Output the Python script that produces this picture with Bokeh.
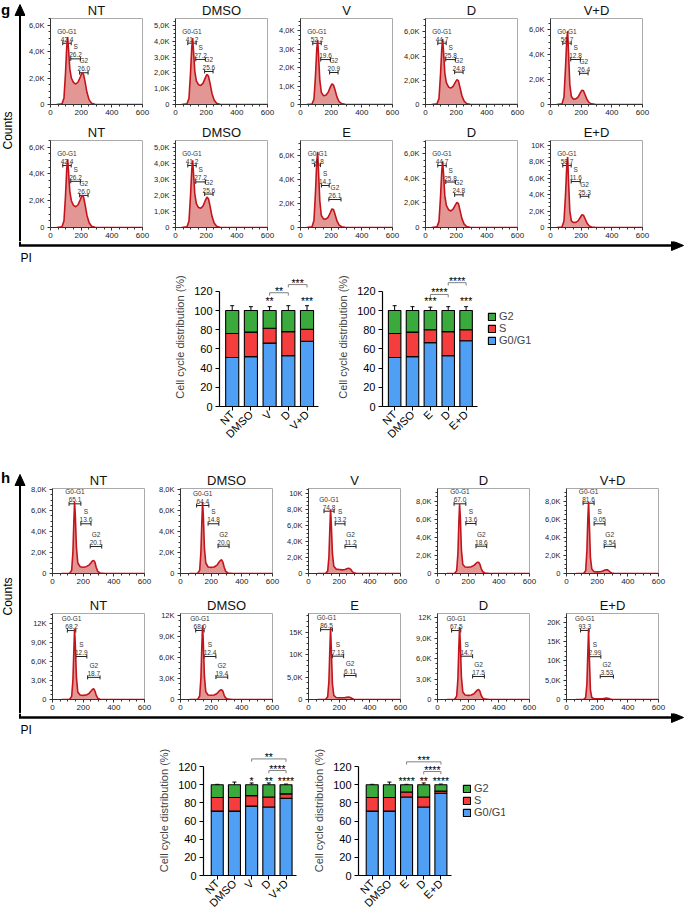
import math
from bokeh.plotting import figure
from bokeh.models import (Range1d, FixedTicker, ColumnDataSource, Whisker,
                          TeeHead, Legend, LegendItem, Spacer)
from bokeh.layouts import row, column
from bokeh.core.properties import value
from bokeh.embed import file_html
from bokeh.resources import INLINE

FONT = "Liberation Sans"

# ======================= DATA =======================
# PI histogram grids (channel values) and counts in thousands
X_G = [40, 75, 88, 98, 106, 112, 118, 126, 136, 150, 165, 180, 195, 205, 215, 225, 238, 252, 268, 290, 330, 600]
X_H = [60, 112, 125, 133, 139, 144, 149, 156, 165, 180, 200, 220, 238, 250, 260, 268, 276, 285, 295, 310, 340, 600]
GATE_NAMES = ["G0-G1", "S", "G2"]

# ---- panel g, row 1 ----
G1_TITLES = ["NT", "DMSO", "V", "D", "V+D"]
G1_YMAX = [6.5, 5.44, 4.65, 7.1, 6.9]
G1_YTICKS = [[0, 2, 4, 6], [0, 1, 2, 3, 4, 5], [0, 1, 2, 3, 4], [0, 2, 4, 6], [0, 2, 4, 6]]
G1_COUNTS = [
    [0, 0.05, 0.5, 2.4, 4.4, 5.1, 4.1, 2.7, 2.0, 1.65, 1.55, 1.7, 2.1, 2.4, 2.3, 1.75, 0.9, 0.35, 0.1, 0.02, 0, 0],
    [0, 0.05, 0.4, 2.0, 3.6, 4.2, 3.3, 2.1, 1.5, 1.25, 1.2, 1.35, 1.7, 1.9, 1.8, 1.35, 0.7, 0.28, 0.08, 0.02, 0, 0],
    [0, 0.03, 0.3, 1.6, 3.0, 3.5, 2.6, 1.3, 0.65, 0.48, 0.5, 0.65, 0.95, 1.12, 1.05, 0.8, 0.4, 0.15, 0.05, 0.01, 0, 0],
    [0, 0.05, 0.5, 2.5, 4.6, 5.4, 4.3, 2.6, 1.8, 1.45, 1.35, 1.5, 1.85, 2.05, 1.95, 1.4, 0.7, 0.28, 0.08, 0.02, 0, 0],
    [0, 0.05, 0.6, 3.0, 5.2, 5.9, 4.0, 1.6, 0.65, 0.42, 0.45, 0.6, 0.95, 1.15, 1.1, 0.8, 0.4, 0.15, 0.05, 0.01, 0, 0],
]
G1_PCT = [["42.4", "26.2", "26.0"], ["41.2", "27.2", "25.6"], ["52.2", "19.6", "20.9"],
          ["44.7", "25.8", "24.8"], ["56.7", "12.8", "26.4"]]
G1_GATE_X = [[(80, 135), (132, 195), (190, 245)]] * 5
G1_GATE_Y = [[4.63, 3.45, 2.40], [3.88, 2.85, 2.09], [3.31, 2.43, 1.73],
             [5.06, 3.71, 2.67], [4.92, 3.61, 2.50]]

# ---- panel g, row 2 ----
G2_TITLES = ["NT", "DMSO", "E", "D", "E+D"]
G2_YMAX = [6.5, 5.44, 7.25, 7.1, 10.6]
G2_YTICKS = [[0, 2, 4, 6], [0, 1, 2, 3, 4, 5], [0, 2, 4, 6], [0, 2, 4, 6], [0, 2, 4, 6, 8, 10]]
G2_COUNTS = [
    G1_COUNTS[0],
    G1_COUNTS[1],
    [0, 0.05, 0.6, 3.0, 5.5, 6.3, 4.5, 2.2, 1.0, 0.72, 0.7, 0.85, 1.25, 1.55, 1.5, 1.1, 0.55, 0.2, 0.06, 0.01, 0, 0],
    G1_COUNTS[3],
    [0, 0.05, 0.8, 4.0, 7.5, 8.6, 5.5, 2.0, 0.8, 0.6, 0.62, 0.8, 1.25, 1.55, 1.5, 1.1, 0.55, 0.2, 0.06, 0.01, 0, 0],
]
G2_PCT = [["42.4", "26.2", "26.0"], ["41.2", "27.2", "25.6"], ["54.8", "14.1", "26.1"],
          ["44.7", "25.8", "24.8"], ["58.7", "11.6", "25.3"]]
G2_GATE_X = [[(80, 135), (132, 195), (190, 245)], [(80, 135), (132, 195), (190, 245)],
             [(92, 130), (136, 187), (185, 264)], [(80, 135), (132, 195), (190, 245)],
             [(80, 135), (135, 194), (194, 250)]]
G2_GATE_Y = [[4.63, 3.45, 2.40], [3.88, 2.85, 2.09], [5.2, 3.5, 2.33],
             [5.06, 3.71, 2.67], [7.55, 5.6, 3.8]]

# ---- panel h, row 1 ----
H1_TITLES = ["NT", "DMSO", "V", "D", "V+D"]
H1_YMAX = [8.1, 8.1, 10.6, 9.44, 9.4]
H1_YTICKS = [[0, 2, 4, 6, 8], [0, 2, 4, 6, 8], [0, 2, 4, 6, 8, 10], [0, 2, 4, 6, 8], [0, 2, 4, 6, 8]]
H1_COUNTS = [
    [0, 0.02, 0.3, 2.0, 4.8, 6.8, 5.5, 2.5, 1.0, 0.65, 0.6, 0.65, 0.8, 1.0, 1.2, 1.25, 1.1, 0.6, 0.2, 0.05, 0, 0],
    [0, 0.02, 0.3, 2.0, 4.8, 6.8, 5.5, 2.4, 1.0, 0.62, 0.58, 0.62, 0.8, 1.05, 1.25, 1.3, 1.1, 0.6, 0.2, 0.05, 0, 0],
    [0, 0.02, 0.3, 2.0, 5.5, 8.0, 6.0, 2.5, 0.9, 0.55, 0.5, 0.45, 0.5, 0.6, 0.65, 0.62, 0.5, 0.25, 0.08, 0.02, 0, 0],
    [0, 0.02, 0.3, 2.2, 5.5, 7.7, 6.2, 2.6, 1.0, 0.72, 0.7, 0.75, 0.9, 1.1, 1.25, 1.25, 1.05, 0.55, 0.2, 0.05, 0, 0],
    [0, 0.02, 0.3, 2.5, 6.0, 7.9, 5.5, 1.8, 0.5, 0.2, 0.18, 0.2, 0.28, 0.38, 0.42, 0.4, 0.3, 0.15, 0.05, 0.01, 0, 0],
]
H1_PCT = [["65.1", "13.6", "20.1"], ["64.4", "14.8", "20.0"], ["74.8", "13.2", "11.2"],
          ["67.0", "13.6", "18.6"], ["81.6", "9.05", "8.54"]]
H1_GATE_X = [[(108, 185), (185, 251), (246, 321)], [(105, 185), (180, 250), (245, 317)],
             [(101, 167), (174, 238), (238, 310)], [(108, 185), (185, 251), (251, 321)],
             [(108, 180), (180, 251), (246, 317)]]
H1_GATE_Y = [[6.64, 4.74, 2.57], [6.48, 4.74, 2.6], [7.77, 6.2, 3.37],
             [7.74, 5.55, 3.03], [7.77, 5.5, 3.0]]

# ---- panel h, row 2 ----
H2_TITLES = ["NT", "DMSO", "E", "D", "E+D"]
H2_YMAX = [13.6, 12.3, 19.2, 12.6, 22.3]
H2_YTICKS = [[0, 3, 6, 9, 12], [0, 3, 6, 9, 12], [0, 5, 10, 15], [0, 3, 6, 9, 12], [0, 5, 10, 15, 20]]
H2_COUNTS = [
    [0, 0.03, 0.5, 3.0, 7.5, 11.2, 8.5, 3.5, 1.2, 0.7, 0.65, 0.7, 0.95, 1.3, 1.6, 1.7, 1.4, 0.7, 0.2, 0.05, 0, 0],
    [0, 0.03, 0.5, 3.0, 7.5, 10.6, 8.0, 3.3, 1.1, 0.65, 0.6, 0.65, 0.85, 1.15, 1.35, 1.4, 1.2, 0.6, 0.2, 0.05, 0, 0],
    [0, 0.03, 0.6, 4.0, 11.0, 16.0, 11.0, 3.5, 0.9, 0.45, 0.4, 0.38, 0.42, 0.5, 0.55, 0.52, 0.4, 0.2, 0.06, 0.01, 0, 0],
    [0, 0.03, 0.5, 3.0, 7.5, 10.6, 8.0, 3.3, 1.1, 0.65, 0.6, 0.65, 0.85, 1.15, 1.4, 1.45, 1.25, 0.6, 0.2, 0.05, 0, 0],
    [0, 0.03, 0.5, 4.0, 12.0, 18.3, 11.0, 2.5, 0.5, 0.2, 0.18, 0.2, 0.25, 0.3, 0.35, 0.33, 0.25, 0.12, 0.04, 0.01, 0, 0],
]
H2_PCT = [["68.2", "12.9", "18.7"], ["68.0", "12.4", "19.4"], ["86.5", "7.13", "6.11"],
          ["67.5", "14.7", "17.5"], ["93.3", "2.99", "3.53"]]
H2_GATE_X = [[(97, 152), (152, 224), (229, 310)], [(99, 154), (154, 231), (231, 308)],
             [(79, 156), (156, 229), (233, 310)], [(92, 152), (152, 229), (229, 306)],
             [(92, 147), (147, 224), (220, 306)]]
H2_GATE_Y = [[10.9, 6.8, 3.5], [9.87, 6.15, 3.2], [15.6, 9.67, 5.36],
             [10.1, 6.34, 3.37], [17.9, 11.1, 5.95]]

# ---- stacked bar charts (% of cells) ----
BAR_YTICKS = [0, 20, 40, 60, 80, 100, 120]
CATS_V = ["NT", "DMSO", "V", "D", "V+D"]
CATS_E = ["NT", "DMSO", "E", "D", "E+D"]
LEGEND_LABELS = ["G2", "S", "G0/G1"]

GV_G0 = [51, 52, 66, 53, 68]
GV_S = [25, 25.5, 15.5, 25, 12.5]
GV_G2 = [24, 22.5, 18.5, 22, 19.5]
GV_E0 = [5.5, 4.5, 10, 4.6, 9]
GV_ES = [6, 4, 5.3, 5.3, 4]
GV_E2 = [5, 4, 4, 5, 5]
GV_STARS = ["", "", "**", "", "***"]
GV_BRACKETS = [(2, 3, 118.5, "**"), (3, 4, 127, "***")]

GE_G0 = [51, 52, 66.5, 53, 68.5]
GE_S = [25, 25.5, 13.5, 25, 11.5]
GE_G2 = [24, 22.5, 20, 22, 20]
GE_E0 = [5.5, 4.5, 4, 4.6, 3.5]
GE_ES = [6, 4, 5, 5, 4]
GE_E2 = [5, 4, 3.5, 4, 4]
GE_STARS = ["", "", "***", "", "***"]
GE_BRACKETS = [(2, 3, 116.7, "****"), (3, 4, 129, "****")]

HV_G0 = [71, 71, 76.5, 75.5, 85]
HV_S = [15, 15, 11.5, 11, 5]
HV_G2 = [14, 14, 12, 13.5, 10]
HV_E0 = [2, 3, 3, 1.5, 1.2]
HV_ES = [2, 1, 2, 1, 1]
HV_E2 = [0.5, 3, 2, 2, 0.8]
HV_STARS = ["", "", "*", "**", "****"]
HV_BRACKETS = [(2, 4, 128.5, "**"), (3, 4, 115.7, "****")]

HE_G0 = [71, 71, 86.5, 75.5, 90.5]
HE_S = [15, 15, 5.5, 11, 2.5]
HE_G2 = [14, 14, 8, 13.5, 7]
HE_E0 = [2, 3, 1.5, 1.5, 0.5]
HE_ES = [2, 1, 1, 1, 1]
HE_E2 = [0.5, 3, 0.5, 2, 0.8]
HE_STARS = ["", "", "****", "**", "****"]
HE_BRACKETS = [(2, 4, 125.3, "***"), (3, 4, 114.6, "****")]

# ======================= STYLE =======================
FILL = "#e39795"
LINE = "#c3141c"
BLUE = "#4f9ff5"
RED = "#f53d3d"
GREEN = "#3aaa3c"


def klabel(v):
    if v == 0:
        return "0"
    if v >= 10:
        return f"{v}K"
    return f"{v},0K"


def style_axis(ax, size, tick=3, minor=2, standoff=2):
    ax.axis_line_color = "#333333"
    ax.major_tick_line_color = "#333333"
    ax.minor_tick_line_color = "#333333"
    ax.major_tick_in = 0
    ax.major_tick_out = tick
    ax.minor_tick_in = 0
    ax.minor_tick_out = minor
    ax.major_label_text_font = FONT
    ax.major_label_text_font_size = size
    ax.major_label_text_color = "#222222"
    ax.major_label_standoff = standoff


def hist_fig(x, counts, ymax, yticks, title, pct, gate_x, gate_y, w, L, T, B, fh):
    p = figure(width=w, height=T + fh + B, x_range=Range1d(0, 600), y_range=Range1d(0, ymax),
               title=title, toolbar_location=None, output_backend="svg",
               min_border_left=L, min_border_right=w - L - 92, min_border_top=T,
               min_border_bottom=B)
    p.title.align = "center"
    p.title.text_font = FONT
    p.title.text_font_size = "13px"
    p.title.text_font_style = "normal"
    p.title.text_color = "#111111"
    try:
        p.title.standoff = 1
    except (AttributeError, ValueError):
        pass
    p.grid.visible = False
    p.outline_line_color = "#aaaaaa"
    p.varea(x=x, y1=0, y2=counts, fill_color=FILL)
    p.line(x, counts, line_color=LINE, line_width=1.6)

    style_axis(p.xaxis[0], "8px")
    style_axis(p.yaxis[0], "7.5px", standoff=3)
    p.xaxis.ticker = FixedTicker(ticks=[0, 200, 400, 600], minor_ticks=list(range(0, 601, 50)))
    step = yticks[1] - yticks[0]
    nminor = int(ymax / (step / 4.0)) + 1
    p.yaxis.ticker = FixedTicker(ticks=yticks, minor_ticks=[i * step / 4.0 for i in range(nminor)])
    p.yaxis.major_label_overrides = {t: klabel(t) for t in yticks}

    src = ColumnDataSource(dict(
        x0=[a for a, b in gate_x], x1=[b for a, b in gate_x],
        xc=[(a + b) / 2.0 for a, b in gate_x], y=gate_y, pct=pct, name=GATE_NAMES))
    p.add_layout(Whisker(source=src, base="y", lower="x0", upper="x1", dimension="width",
                         line_color="#222222", line_width=1,
                         lower_head=TeeHead(size=4, line_color="#222222", line_width=1),
                         upper_head=TeeHead(size=4, line_color="#222222", line_width=1)))
    p.text(x="xc", y="y", text="pct", source=src, text_font=value(FONT), text_font_size="6.5px",
           text_align="center", text_baseline="bottom", y_offset=-1.5, text_color="#333333")
    p.text(x="xc", y="y", text="name", source=src, text_font=value(FONT), text_font_size="6.5px",
           text_align="center", text_baseline="bottom", y_offset=-8.5, text_color="#333333")
    return p


def hist_row(titles, ymaxs, ytickss, countss, pcts, gxs, gys, xgrid, widths, T, B, fh):
    figs = []
    for i in range(5):
        figs.append(hist_fig(xgrid, countss[i], ymaxs[i], ytickss[i], titles[i], pcts[i],
                             gxs[i], gys[i], widths[i], 25, T, B, fh))
    return row(figs, spacing=0)


def canvas(w, h):
    c = figure(width=w, height=h, x_range=Range1d(0, w), y_range=Range1d(h, 0),
               x_axis_type=None, y_axis_type=None, toolbar_location=None,
               output_backend="svg", min_border=0)
    c.outline_line_color = None
    return c


def side_strip(w, h, letter, letter_base, tip_y, base_y, counts_y):
    c = canvas(w, h)
    c.text(x=[0.5], y=[letter_base], text=[letter], text_font=value(FONT), text_font_size="15px",
           text_font_style="bold", text_baseline="alphabetic", text_color="black")
    c.patch([14.5, 19.5, 24.5], [base_y, tip_y, base_y], fill_color="black", line_color="black")
    c.line([19.5, 19.5], [base_y, h], line_color="black", line_width=2)
    c.text(x=[7.5], y=[counts_y], text=["Counts"], angle=math.pi / 2, text_align="center",
           text_baseline="middle", text_font=value(FONT), text_font_size="12px", text_color="black")
    return c


def arrow_strip(w, h, ly):
    c = canvas(w, h)
    c.line([19.5, 19.5], [0, ly], line_color="black", line_width=2)
    c.line([18.5, w - 12], [ly, ly], line_color="black", line_width=2.5)
    c.patch([w - 13, w - 1, w - 13], [ly - 5, ly, ly + 5], fill_color="black", line_color="black")
    c.text(x=[20], y=[ly + 12], text=["PI"], text_baseline="middle", text_font=value(FONT),
           text_font_size="12px", text_color="black")
    return c


def bar_fig(cats, g0, s, g2, e0, es, e2, stars, star_y, brackets, x0, ppu_x, ppu_y,
            frame_w, frame_h, axis_len, L, R, T, B, legend_xy=None):
    xs = list(range(len(cats)))
    p = figure(width=L + frame_w + R, height=T + frame_h + B,
               x_range=Range1d(x0, x0 + frame_w / ppu_x), y_range=Range1d(0, frame_h / ppu_y),
               toolbar_location=None, output_backend="svg",
               min_border_left=L, min_border_right=R, min_border_top=T, min_border_bottom=B)
    p.grid.visible = False
    p.outline_line_color = None
    src = ColumnDataSource(dict(x=xs, g0=g0, s=s, g2=g2))
    rs = p.vbar_stack(["g0", "s", "g2"], x="x", width=0.7, source=src,
                      fill_color=[BLUE, RED, GREEN], line_color="black", line_width=1.1)
    c1 = list(g0)
    c2 = [a + b for a, b in zip(g0, s)]
    c3 = [a + b for a, b in zip(c2, g2)]
    for lo, err in ((c1, e0), (c2, es), (c3, e2)):
        ws = ColumnDataSource(dict(x=xs, lo=lo, hi=[l + e for l, e in zip(lo, err)]))
        p.add_layout(Whisker(source=ws, base="x", lower="lo", upper="hi", dimension="height",
                             line_color="black", line_width=1, lower_head=None,
                             upper_head=TeeHead(size=4, line_color="black", line_width=1)))
    p.text(x=xs, y=[star_y] * len(xs), text=stars, text_align="center",
           text_baseline="alphabetic", y_offset=2, text_font=value(FONT),
           text_font_size="10.5px", text_color="black")
    for i, j, yb, lab in brackets:
        p.line([i, i, j, j], [yb - 3, yb, yb, yb - 3], line_color="#808080", line_width=1)
        p.text(x=[(i + j) / 2.0], y=[yb], text=[lab], text_align="center",
               text_baseline="alphabetic", y_offset=-2, text_font=value(FONT),
               text_font_size="10.5px", text_color="black")

    style_axis(p.xaxis[0], "11px", tick=4, minor=0, standoff=2)
    style_axis(p.yaxis[0], "11px", tick=4, minor=0, standoff=3)
    for ax in (p.xaxis[0], p.yaxis[0]):
        ax.axis_line_color = "black"
        ax.major_tick_line_color = "black"
        ax.axis_line_width = 1.2
        ax.major_label_text_color = "black"
        ax.minor_tick_line_color = None
    p.xaxis.ticker = FixedTicker(ticks=xs)
    p.xaxis.major_label_overrides = {i: c for i, c in enumerate(cats)}
    p.xaxis.major_label_orientation = math.pi / 4
    p.xaxis.bounds = (x0, x0 + axis_len)
    p.yaxis.ticker = FixedTicker(ticks=BAR_YTICKS)
    p.yaxis.bounds = (BAR_YTICKS[0], BAR_YTICKS[-1])
    p.yaxis.axis_label = "Cell cycle distribution (%)"
    p.yaxis.axis_label_text_font = FONT
    p.yaxis.axis_label_text_font_size = "11px"
    p.yaxis.axis_label_text_font_style = "normal"
    p.yaxis.axis_label_standoff = 5

    if legend_xy is not None:
        items = [LegendItem(label=LEGEND_LABELS[0], renderers=[rs[2]]),
                 LegendItem(label=LEGEND_LABELS[1], renderers=[rs[1]]),
                 LegendItem(label=LEGEND_LABELS[2], renderers=[rs[0]])]
        leg = Legend(items=items, location=legend_xy, padding=0, margin=0, spacing=0,
                     glyph_width=9, glyph_height=9, label_height=11, label_standoff=3,
                     label_text_font=FONT, label_text_font_size="11px",
                     border_line_color=None, background_fill_alpha=0)
        p.add_layout(leg)
    return p


# ======================= LAYOUT =======================
# panel g
g_strip = side_strip(25, 241, "g", 9, 4, 15, 130)
g_r1 = hist_row(G1_TITLES, G1_YMAX, G1_YTICKS, G1_COUNTS, G1_PCT, G1_GATE_X, G1_GATE_Y,
                X_G, [125] * 5, 18, 18, 86)
g_r2 = hist_row(G2_TITLES, G2_YMAX, G2_YTICKS, G2_COUNTS, G2_PCT, G2_GATE_X, G2_GATE_Y,
                X_G, [125] * 5, 18, 14, 87)
g_hist = row(g_strip, column(g_r1, g_r2, spacing=0), spacing=0)
g_arrow = arrow_strip(684, 22, 4)

gv = bar_fig(CATS_V, GV_G0, GV_S, GV_G2, GV_E0, GV_ES, GV_E2, GV_STARS, 111.5, GV_BRACKETS,
             -0.68, 18.7, 0.96, 99, 139, 5.3, 49, 16, 4, 56)
ge = bar_fig(CATS_E, GE_G0, GE_S, GE_G2, GE_E0, GE_ES, GE_E2, GE_STARS, 111.5, GE_BRACKETS,
             -0.68, 18.7, 0.96, 156, 139, 5.3, 41, 0, 4, 56, legend_xy=(105, 60))
g_bars = row(Spacer(width=170, height=199), gv, ge, spacing=0)

# panel h
h_strip = side_strip(27, 251, "h", 15, 12, 23, 134)
h_r1 = hist_row(H1_TITLES, H1_YMAX, H1_YTICKS, H1_COUNTS, H1_PCT, H1_GATE_X, H1_GATE_Y,
                X_H, [128, 128, 129, 129, 129], 26, 20, 85)
h_r2 = hist_row(H2_TITLES, H2_YMAX, H2_YTICKS, H2_COUNTS, H2_PCT, H2_GATE_X, H2_GATE_Y,
                X_H, [128, 128, 129, 129, 129], 20, 14, 86)
h_hist = row(h_strip, column(h_r1, h_r2, spacing=0), spacing=0)
h_arrow = arrow_strip(684, 24, 4)

hv = bar_fig(CATS_V, HV_G0, HV_S, HV_G2, HV_E0, HV_ES, HV_E2, HV_STARS, 106.5, HV_BRACKETS,
             -0.8, 17.75, 0.942, 96, 135, 5.4, 45, 14, 8, 36)
he = bar_fig(CATS_E, HE_G0, HE_S, HE_G2, HE_E0, HE_ES, HE_E2, HE_STARS, 106.5, HE_BRACKETS,
             -0.8, 17.75, 0.942, 152, 135, 5.4, 43, 0, 8, 36, legend_xy=(104, 57))
h_bars = row(Spacer(width=155, height=179), hv, he, spacing=0)

root = column(g_hist, g_arrow, g_bars, h_hist, h_arrow, h_bars, spacing=0)

open("out.html", "w").write(file_html(root, INLINE))
